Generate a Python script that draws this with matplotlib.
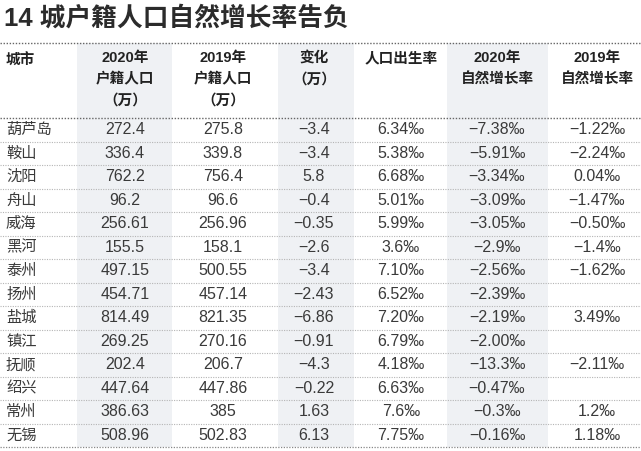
import matplotlib
matplotlib.use("Agg")
import matplotlib.pyplot as plt
from matplotlib.patches import Rectangle

title = "14 城户籍人口自然增长率告负"

headers = [
    "城市",
    "2020年\n户籍人口\n（万）",
    "2019年\n户籍人口\n（万）",
    "变化\n（万）",
    "人口出生率",
    "2020年\n自然增长率",
    "2019年\n自然增长率",
]

cities = ["葫芦岛", "鞍山", "沈阳", "舟山", "威海", "黑河", "泰州",
          "扬州", "盐城", "镇江", "抚顺", "绍兴", "常州", "无锡"]
pop_2020 = ["272.4", "336.4", "762.2", "96.2", "256.61", "155.5", "497.15",
            "454.71", "814.49", "269.25", "202.4", "447.64", "386.63", "508.96"]
pop_2019 = ["275.8", "339.8", "756.4", "96.6", "256.96", "158.1", "500.55",
            "457.14", "821.35", "270.16", "206.7", "447.86", "385", "502.83"]
change = ["−3.4", "−3.4", "5.8", "−0.4", "−0.35", "−2.6", "−3.4",
          "−2.43", "−6.86", "−0.91", "−4.3", "−0.22", "1.63", "6.13"]
birth_rate = ["6.34‰", "5.38‰", "6.68‰", "5.01‰", "5.99‰", "3.6‰", "7.10‰",
              "6.52‰", "7.20‰", "6.79‰", "4.18‰", "6.63‰", "7.6‰", "7.75‰"]
growth_2020 = ["−7.38‰", "−5.91‰", "−3.34‰", "−3.09‰", "−3.05‰", "−2.9‰", "−2.56‰",
               "−2.39‰", "−2.19‰", "−2.00‰", "−13.3‰", "−0.47‰", "−0.3‰", "−0.16‰"]
growth_2019 = ["−1.22‰", "−2.24‰", "0.04‰", "−1.47‰", "−0.50‰", "−1.4‰", "−1.62‰",
               "", "3.49‰", "", "−2.11‰", "", "1.2‰", "1.18‰"]

W, H = 641, 451
col_left = [0, 77, 172, 278, 354, 447, 548, 641]
col_center = [None, 125, 223, 314, 401, 497, 597]
shaded = [1, 3, 5]
head_top, head_bot, table_bot = 43, 118, 447
row_h = (table_bot - head_bot) / len(cities)

cjk = ["Noto Sans CJK SC", "DejaVu Sans"]
num = ["Liberation Sans", "Noto Sans CJK SC", "DejaVu Sans"]

fig = plt.figure(figsize=(W / 100, H / 100), dpi=100)
ax = fig.add_axes([0, 0, 1, 1])
ax.set_xlim(0, W)
ax.set_ylim(H, 0)
ax.axis("off")

for c in shaded:
    ax.add_patch(Rectangle((col_left[c], head_top), col_left[c + 1] - col_left[c],
                           table_bot - head_top, color="#eff1f4", lw=0, zorder=0))

ax.text(4, 18, title, family=num, fontsize=18.5, weight="bold",
        color="#2b2b2b", va="center", ha="left")

# header
ax.plot([0, W], [head_top, head_top], ls=(0, (1, 1.2)), color="#666666", lw=1)
ax.plot([0, W], [head_bot, head_bot], ls=(0, (1, 1.2)), color="#666666", lw=1)
ax.text(6, 60, headers[0], family=cjk, fontsize=10.5, weight="bold",
        color="#222222", va="center", ha="left")
for i in range(1, len(headers)):
    ax.text(col_center[i], 51, headers[i], family=num, fontsize=10.5, weight="bold",
            color="#222222", va="top", ha="center", linespacing=1.65)

columns = [pop_2020, pop_2019, change, birth_rate, growth_2020, growth_2019]
for r, city in enumerate(cities):
    y = head_bot + (r + 0.5) * row_h
    ax.text(6, y, city, family=cjk, fontsize=11, color="#3a3a3a",
            va="center", ha="left")
    for i, col in enumerate(columns, start=1):
        ax.text(col_center[i], y, col[r], family=num, fontsize=11.5,
                color="#3a3a3a", va="center", ha="center")
    yl = head_bot + (r + 1) * row_h
    if r < len(cities) - 1:
        ax.plot([0, W], [yl, yl], ls=(0, (1, 1.2)), color="#b5b5b5", lw=0.8)
    else:
        ax.plot([0, W], [yl, yl], ls=(0, (1, 1.2)), color="#888888", lw=0.9)

fig.savefig("out.png", dpi=100, facecolor="white")
